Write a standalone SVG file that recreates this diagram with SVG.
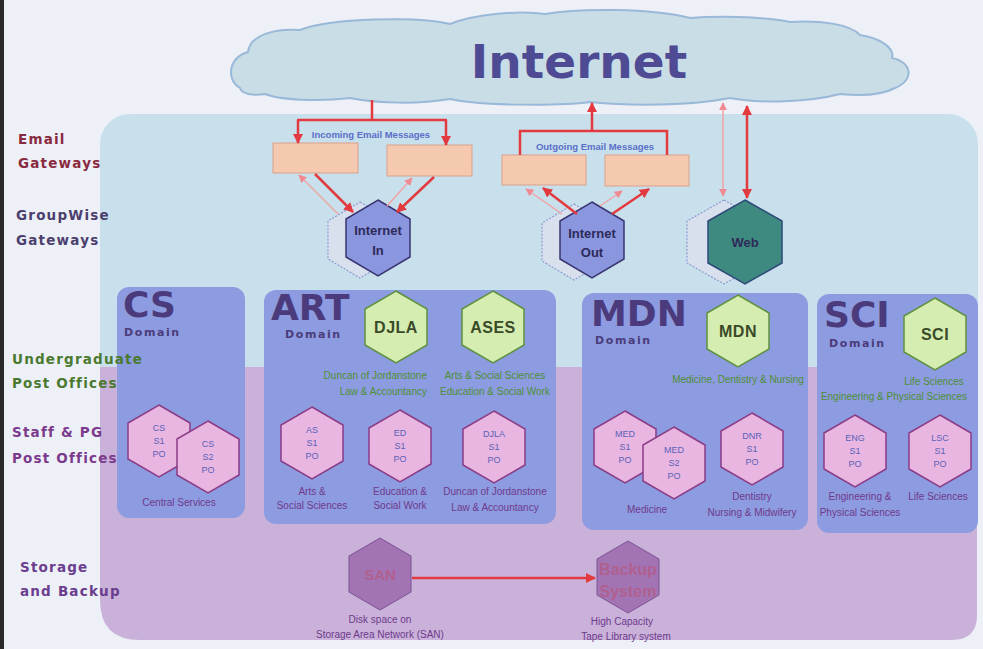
<svg xmlns="http://www.w3.org/2000/svg" width="983" height="649" viewBox="0 0 983 649">
<style>
.lbl{font-family:"DejaVu Sans",Verdana,sans-serif;font-weight:bold;font-size:13.5px;letter-spacing:1.2px}
.dom{font-family:"DejaVu Sans",Verdana,sans-serif;font-weight:bold;font-size:36px;fill:#4b3b7c}
.dsub{font-family:"DejaVu Sans",Verdana,sans-serif;font-weight:bold;font-size:11px;letter-spacing:1.6px;fill:#4b3b7c}
.gh{fill:#d6edb2;stroke:#5f9140;stroke-width:1.5}
.gt{font-family:"Liberation Sans",Arial,sans-serif;font-weight:bold;font-size:16px;fill:#3a4a28;text-anchor:middle;letter-spacing:0.5px}
.gs{font-family:"Liberation Sans",Arial,sans-serif;font-size:10px;fill:#4f8f35;text-anchor:middle}
.gse{font-family:"Liberation Sans",Arial,sans-serif;font-size:10px;fill:#4f8f35;text-anchor:end}
.ph{fill:#e8b6e0;stroke:#8a3c86;stroke-width:1.5}
.pt{font-family:"Liberation Sans",Arial,sans-serif;font-size:9px;fill:#5a62b8;text-anchor:middle}
.ps{font-family:"Liberation Sans",Arial,sans-serif;font-size:10px;fill:#6e3a8c;text-anchor:middle}
.box{fill:#8d9be0}
.gw{fill:#8a96de;stroke:#3a3570;stroke-width:1.5}
.ghost{fill:#d8e0ee;stroke:#8d9bd0;stroke-width:1.2;stroke-dasharray:2 1.5}
.gwt{font-family:"Liberation Sans",Arial,sans-serif;font-weight:bold;font-size:13px;fill:#2e2a5a;text-anchor:middle}
.eb{fill:#f5c8b0;stroke:#d9a08c;stroke-width:1}
.et{font-family:"Liberation Sans",Arial,sans-serif;font-weight:bold;font-size:9.5px;fill:#5b6ec8;text-anchor:middle}
.sh{fill:#a274b4;stroke:#7c5394;stroke-width:1}
.st{font-family:"Liberation Sans",Arial,sans-serif;font-weight:bold;fill:#b0608f;text-anchor:middle}
.rl{fill:none;stroke:#e23a3e;stroke-width:2.5}
.rf{fill:none;stroke:#f2a2a6;stroke-width:1.5}
</style>
<defs>
<polygon id="hx" points="0,-36 31,-18 31,18 0,36 -31,18 -31,-18"/>
<polygon id="hxG" points="0,-38 32,-19 32,19 0,38 -32,19 -32,-19"/>
<polygon id="hxW" points="0,-42 37,-21 37,21 0,42 -37,21 -37,-21"/>
<marker id="ah" viewBox="0 0 10 10" refX="9" refY="5" markerWidth="10" markerHeight="10" markerUnits="userSpaceOnUse" orient="auto-start-reverse"><path d="M0,0 L10,5 L0,10 z" fill="#e23a3e"/></marker>
<marker id="ahf" viewBox="0 0 10 10" refX="9" refY="5" markerWidth="8" markerHeight="8" markerUnits="userSpaceOnUse" orient="auto-start-reverse"><path d="M0,0 L10,5 L0,10 z" fill="#f08a90"/></marker>
</defs>

<rect x="0" y="0" width="983" height="649" fill="#eef0f8"/>
<rect x="0" y="0" width="4" height="649" fill="#2a2a2a"/>

<g id="internet">
<path d="M240,88 C226,80 228,58 248,52 C250,35 275,28 300,30 C330,18 420,16 450,24 C475,14 520,10 545,14 C580,8 650,8 690,18 C715,16 760,16 790,22 C820,20 850,24 860,35 C880,38 895,48 892,58 C912,62 915,80 895,88 C880,96 860,96 840,94 C810,102 760,104 730,98 C690,106 630,106 590,102 C560,106 480,106 450,99 C420,104 380,104 350,98 C320,102 280,100 265,94 C252,96 242,94 240,88 Z" fill="#c8dde6" stroke="#9ab8d8" stroke-width="2"/>
<text x="579" y="78" font-family="DejaVu Sans, Verdana, sans-serif" font-weight="bold" font-size="47" fill="#4e4b94" text-anchor="middle">Internet</text>
</g>

<g id="regions">
<rect x="100" y="114" width="878" height="300" rx="30" fill="#c8e0ec"/>
<path d="M100,367 H977 V615 Q977,640 952,640 H140 Q100,640 100,600 Z" fill="#c9b1d9"/>
</g>

<g id="email-gateways">
<g id="in1"><rect class="eb" x="273" y="143" width="85" height="30"/></g>
<g id="in2"><rect class="eb" x="387" y="145" width="85" height="31"/></g>
<g id="out1"><rect class="eb" x="502" y="155" width="84" height="30"/></g>
<g id="out2"><rect class="eb" x="605" y="155" width="84" height="31"/></g>
<text class="et" x="371" y="138">Incoming Email Messages</text>
<text class="et" x="595" y="150">Outgoing Email Messages</text>
</g>

<g id="gw-in">
<use href="#hxG" class="ghost" transform="translate(360,240)"/>
<use href="#hxG" class="gw" transform="translate(378,238)"/>
<text class="gwt" x="378" y="235">Internet</text>
<text class="gwt" x="378" y="255">In</text>
</g>
<g id="gw-out">
<use href="#hxG" class="ghost" transform="translate(574,242)"/>
<use href="#hxG" class="gw" transform="translate(592,240)"/>
<text class="gwt" x="592" y="238">Internet</text>
<text class="gwt" x="592" y="257">Out</text>
</g>
<g id="gw-web">
<use href="#hxW" class="ghost" transform="translate(724,242)"/>
<use href="#hxW" fill="#3f8a80" stroke="#2e4a78" stroke-width="1.5" transform="translate(745,242)"/>
<text class="gwt" x="745" y="247">Web</text>
</g>

<g id="cs-domain">
<rect class="box" x="117" y="287" width="128" height="231" rx="12"/>
<text class="dom" x="123" y="317">CS</text>
<text class="dsub" x="124" y="336">Domain</text>
<g id="cs-s1"><use href="#hx" class="ph" transform="translate(159,441)"/><text class="pt" x="159" y="431">CS</text><text class="pt" x="159" y="444">S1</text><text class="pt" x="159" y="457">PO</text></g>
<g id="cs-s2"><use href="#hx" class="ph" transform="translate(208,457)"/><text class="pt" x="208" y="447">CS</text><text class="pt" x="208" y="460">S2</text><text class="pt" x="208" y="473">PO</text></g>
<text class="ps" x="179" y="506">Central Services</text>
</g>

<g id="art-domain">
<rect class="box" x="264" y="290" width="292" height="234" rx="12"/>
<text class="dom" x="271" y="320">ART</text>
<text class="dsub" x="285" y="338">Domain</text>
<g id="djla"><use href="#hx" class="gh" transform="translate(396,327)"/><text class="gt" x="396" y="333">DJLA</text></g>
<g id="ases"><use href="#hx" class="gh" transform="translate(493,327)"/><text class="gt" x="493" y="333">ASES</text></g>
<text class="gse" x="427" y="379">Duncan of Jordanstone</text>
<text class="gse" x="427" y="395">Law &amp; Accountancy</text>
<text class="gs" x="495" y="379">Arts &amp; Social Sciences</text>
<text class="gs" x="495" y="395">Education &amp; Social Work</text>
<g id="as-s1"><use href="#hx" class="ph" transform="translate(312,443)"/><text class="pt" x="312" y="433">AS</text><text class="pt" x="312" y="446">S1</text><text class="pt" x="312" y="459">PO</text></g>
<g id="ed-s1"><use href="#hx" class="ph" transform="translate(400,446)"/><text class="pt" x="400" y="436">ED</text><text class="pt" x="400" y="449">S1</text><text class="pt" x="400" y="462">PO</text></g>
<g id="djla-s1"><use href="#hx" class="ph" transform="translate(494,447)"/><text class="pt" x="494" y="437">DJLA</text><text class="pt" x="494" y="450">S1</text><text class="pt" x="494" y="463">PO</text></g>
<text class="ps" x="312" y="495">Arts &amp;</text>
<text class="ps" x="312" y="509">Social Sciences</text>
<text class="ps" x="400" y="495">Education &amp;</text>
<text class="ps" x="400" y="509">Social Work</text>
<text class="ps" x="495" y="495">Duncan of Jordanstone</text>
<text class="ps" x="495" y="511">Law &amp; Accountancy</text>
</g>

<g id="mdn-domain">
<rect class="box" x="582" y="293" width="226" height="237" rx="12"/>
<text class="dom" x="591" y="326">MDN</text>
<text class="dsub" x="595" y="344">Domain</text>
<g id="mdn"><use href="#hx" class="gh" transform="translate(738,331)"/><text class="gt" x="738" y="337">MDN</text></g>
<text class="gs" x="738" y="383">Medicine, Dentistry &amp; Nursing</text>
<g id="med-s1"><use href="#hx" class="ph" transform="translate(625,447)"/><text class="pt" x="625" y="437">MED</text><text class="pt" x="625" y="450">S1</text><text class="pt" x="625" y="463">PO</text></g>
<g id="med-s2"><use href="#hx" class="ph" transform="translate(674,463)"/><text class="pt" x="674" y="453">MED</text><text class="pt" x="674" y="466">S2</text><text class="pt" x="674" y="479">PO</text></g>
<g id="dnr-s1"><use href="#hx" class="ph" transform="translate(752,449)"/><text class="pt" x="752" y="439">DNR</text><text class="pt" x="752" y="452">S1</text><text class="pt" x="752" y="465">PO</text></g>
<text class="ps" x="647" y="513">Medicine</text>
<text class="ps" x="752" y="500">Dentistry</text>
<text class="ps" x="752" y="516">Nursing &amp; Midwifery</text>
</g>

<g id="sci-domain">
<rect class="box" x="817" y="294" width="161" height="239" rx="12"/>
<text class="dom" x="824" y="327">SCI</text>
<text class="dsub" x="829" y="347">Domain</text>
<g id="sci"><use href="#hx" class="gh" transform="translate(935,334)"/><text class="gt" x="935" y="340">SCI</text></g>
<text class="gs" x="934" y="385">Life Sciences</text>
<text class="gs" x="894" y="400">Engineering &amp; Physical Sciences</text>
<g id="eng-s1"><use href="#hx" class="ph" transform="translate(855,451)"/><text class="pt" x="855" y="441">ENG</text><text class="pt" x="855" y="454">S1</text><text class="pt" x="855" y="467">PO</text></g>
<g id="lsc-s1"><use href="#hx" class="ph" transform="translate(940,451)"/><text class="pt" x="940" y="441">LSC</text><text class="pt" x="940" y="454">S1</text><text class="pt" x="940" y="467">PO</text></g>
<text class="ps" x="860" y="500">Engineering &amp;</text>
<text class="ps" x="860" y="516">Physical Sciences</text>
<text class="ps" x="938" y="500">Life Sciences</text>
</g>

<g id="san">
<use href="#hx" class="sh" transform="translate(380,574)"/>
<text class="st" x="380" y="580" font-size="15">SAN</text>
<text class="ps" x="380" y="623">Disk space on</text>
<text class="ps" x="380" y="638">Storage Area Network (SAN)</text>
</g>
<g id="backup">
<use href="#hx" class="sh" transform="translate(628,577)"/>
<text class="st" x="628" y="575" font-size="16">Backup</text>
<text class="st" x="628" y="597" font-size="16">System</text>
<text class="ps" x="622" y="625">High Capacity</text>
<text class="ps" x="626" y="640">Tape Library system</text>
</g>

<g id="row-labels" class="lbl">
<text x="18" y="144" fill="#8a2a40">Email</text>
<text x="18" y="168" fill="#8a2a40">Gateways</text>
<text x="16" y="220" fill="#4b3f6e">GroupWise</text>
<text x="16" y="245" fill="#4b3f6e">Gateways</text>
<text x="12" y="364" fill="#4a7a30">Undergraduate</text>
<text x="12" y="388" fill="#4a7a30">Post Offices</text>
<text x="12" y="437" fill="#7b3a8c">Staff &amp; PG</text>
<text x="12" y="463" fill="#7b3a8c">Post Offices</text>
<text x="20" y="572" fill="#6a3d8e">Storage</text>
<text x="20" y="596" fill="#6a3d8e">and Backup</text>
</g>

<g id="connectors">
<path class="rl" d="M372,100 V120 M297,120 H447"/>
<path class="rl" d="M298,120 V143" marker-end="url(#ah)"/>
<path class="rl" d="M446,120 V145" marker-end="url(#ah)"/>
<path class="rl" d="M520,155 V131 H667 V155"/>
<path class="rl" d="M592,131 V103" marker-end="url(#ah)"/>
<path class="rl" d="M315,174 L353,212" marker-end="url(#ah)"/>
<path class="rl" d="M434,177 L397,212" marker-end="url(#ah)"/>
<path class="rf" d="M338,214 L299,175" marker-end="url(#ahf)"/>
<path class="rf" d="M387,206 L412,178" marker-end="url(#ahf)"/>
<path class="rl" d="M577,214 L543,188" marker-end="url(#ah)"/>
<path class="rl" d="M612,214 L649,189" marker-end="url(#ah)"/>
<path class="rf" d="M562,214 L526,189" marker-end="url(#ahf)"/>
<path class="rf" d="M600,206 L622,191" marker-end="url(#ahf)"/>
<path class="rf" d="M723,196 V103" marker-start="url(#ahf)" marker-end="url(#ahf)"/>
<path class="rl" d="M747,198 V106" marker-start="url(#ah)" marker-end="url(#ah)"/>
<path class="rl" d="M412,578 H595" marker-end="url(#ah)"/>
</g>
</svg>
